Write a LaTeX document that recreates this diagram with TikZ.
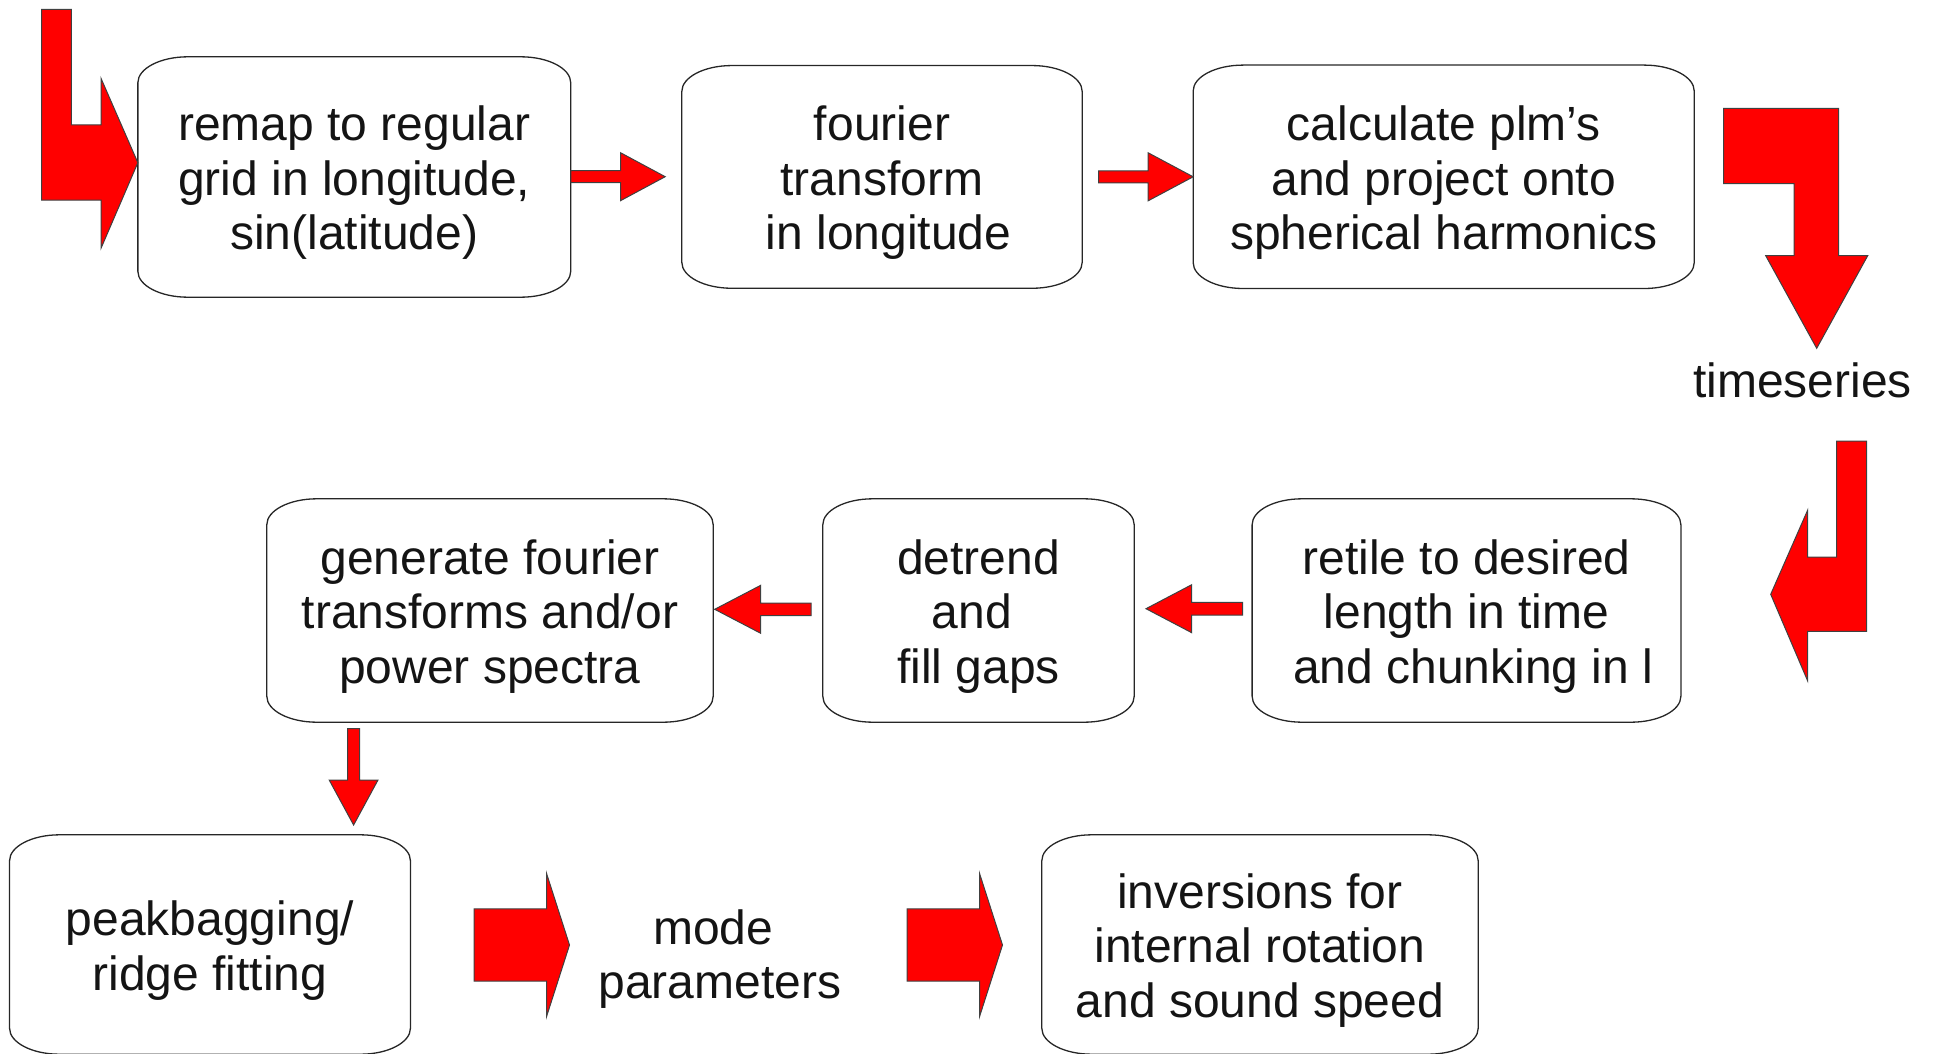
\documentclass[tikz,border=0pt]{standalone}
\usepackage{fontspec}
\setmainfont{Liberation Sans}
\usetikzlibrary{calc}
\newcommand\boxrx{50pt}
\newcommand\boxry{26pt}
\newcommand\trailsp{\kern0.278em}
\tikzset{
  box/.style={draw=none, inner sep=0pt},
  lbl/.style={align=center, inner sep=0pt, text=black!92,
    font=\fontsize{48pt}{54.5pt}\selectfont},
  boxline/.style={draw=black!85, line width=1.3pt},
  barrow/.style={fill=red, draw=black!75, line width=1pt, line join=miter},
}
% elliptical-corner box outline around a named node
\newcommand\ebox[1]{%
  \draw[boxline] ([xshift=\boxrx]#1.north west) -- ([xshift=-\boxrx]#1.north east)
    arc[start angle=90,end angle=0,x radius=\boxrx,y radius=\boxry]
    -- ([yshift=\boxry]#1.south east)
    arc[start angle=0,end angle=-90,x radius=\boxrx,y radius=\boxry]
    -- ([xshift=\boxrx]#1.south west)
    arc[start angle=-90,end angle=-180,x radius=\boxrx,y radius=\boxry]
    -- ([yshift=-\boxry]#1.north west)
    arc[start angle=180,end angle=90,x radius=\boxrx,y radius=\boxry] -- cycle;}
% horizontal block arrow: tail, tip, shaft half height, head half height, signed head length
\newcommand\harrow[5]{%
  \draw[barrow] let \p1=(#1), \p2=(#2) in
    (\x1,\y2+#3) -- ({\x2-(#5)},\y2+#3) -- ({\x2-(#5)},\y2+#4) -- (\x2,\y2)
    -- ({\x2-(#5)},\y2-#4) -- ({\x2-(#5)},\y2-#3) -- (\x1,\y2-#3) -- cycle;}
% downward block arrow: tail, tip, shaft half width, head half width, head length
\newcommand\varrow[5]{%
  \draw[barrow] let \p1=(#1), \p2=(#2) in
    (\x2-#3,\y1) -- (\x2+#3,\y1) -- (\x2+#3,\y2+#5) -- (\x2+#4,\y2+#5) -- (\x2,\y2)
    -- (\x2-#4,\y2+#5) -- (\x2-#3,\y2+#5) -- cycle;}
\begin{document}
\begin{tikzpicture}[x=1pt,y=-1pt]
\useasboundingbox (0,0) rectangle (1933,1054);

% box frames
\node[box, minimum width=432.5pt, minimum height=240pt] (b1) at (354.3,177) {};
\node[box, minimum width=400pt, minimum height=222.3pt] (b2) at (882,176.9) {};
\node[box, minimum width=500.7pt, minimum height=223pt] (b3) at (1443.7,176.8) {};
\node[box, minimum width=428.4pt, minimum height=223pt] (b4) at (1466.5,610.5) {};
\node[box, minimum width=311pt, minimum height=223pt] (b5) at (978.5,610.5) {};
\node[box, minimum width=446pt, minimum height=223pt] (b6) at (490,610.5) {};
\node[box, minimum width=400.5pt, minimum height=219pt] (b7) at (210,944.5) {};
\node[box, minimum width=436pt, minimum height=219pt] (b8) at (1260,944.5) {};
\foreach \n in {b1,b2,b3,b4,b5,b6,b7,b8} {\ebox{\n}}

% box texts
\node[lbl] (t1) at ([yshift=-6pt]b1.center) {remap to regular\\grid in longitude,\\sin(latitude)};
\node[lbl] (t2) at ([yshift=-6pt]b2.center) {fourier\\transform\\\hspace*{0.278em}in longitude};
\node[lbl] (t3) at ([yshift=-6pt]b3.center) {calculate plm’s\\and project onto\\spherical harmonics};
\node[lbl] (t4) at ([yshift=-6pt]b4.center) {retile to desired\\length in time\\\hspace*{0.278em}and chunking in l};
\node[lbl] (t5) at ([yshift=-6pt]b5.center) {detrend\\and\trailsp\\fill gaps};
\node[lbl] (t6) at ([yshift=-6pt]b6.center) {generate fourier\\transforms and/or\\power spectra};
\node[lbl] (t7) at ([yshift=-6pt]b7.center) {peakbagging/\\ridge fitting};
\node[lbl] (t8) at ([yshift=-6pt]b8.center) {inversions for\\internal rotation\\and sound speed};

% free labels
\node[lbl, anchor=base] (ts) at (1802.5,397.3) {timeseries};
\node[lbl] (mp) at (720,959) {mode\trailsp\\parameters};

% named coordinates for arrow ends
\coordinate (a1t) at (665.2,176.7);
\coordinate (a2s) at (1098.7,176.7);
\coordinate (a3s) at (1242.7,608.7);
\coordinate (a3t) at (1146,608.7);
\coordinate (a4s) at (811,609.3);
\coordinate (a4t) at (714.7,609.3);
\coordinate (a5s) at (354,728.7);
\coordinate (a5t) at (353.6,825);
\coordinate (c1s) at (474,945);
\coordinate (c1t) at (569.5,945);
\coordinate (c2s) at (907,945);
\coordinate (c2t) at (1002.5,945);

% block arrows
\harrow{b1.east}{a1t}{6pt}{24pt}{44.7pt}
\harrow{a2s}{b3.west}{6pt}{24pt}{45pt}
\harrow{a3s}{a3t}{6.3pt}{24pt}{-45.7pt}
\harrow{a4s}{a4t}{6.2pt}{24pt}{-46pt}
\varrow{a5s}{a5t}{6pt}{24.4pt}{45pt}
\harrow{c1s}{c1t}{36.2pt}{71.7pt}{23pt}
\harrow{c2s}{c2t}{36.2pt}{71.7pt}{23pt}

% entry arrow into first box
\draw[barrow] (41.5,9.3) -- (71.4,9.3) -- (71.4,125) -- (101,125) -- (101,78.3)
  -- (b1.west |- 0,162.7) -- (101,248.3) -- (101,200) -- (41.5,200) -- cycle;
% bent arrow down to "timeseries"
\draw[barrow] (1723.7,108.3) -- (1838.7,108.3) -- (1838.7,255.7) -- (1867.7,255.7)
  -- (1816.7,348.3) -- (1765.7,255.7) -- (1794,255.7) -- (1794,183.7)
  -- (1723.7,183.7) -- cycle;
% bent arrow from "timeseries" down and left
\draw[barrow] (1836.7,441) -- (1866.7,441) -- (1866.7,631.3) -- (1807.7,631.3)
  -- (1807.7,681) -- (1770.7,594.3) -- (1807.7,510) -- (1807.7,557)
  -- (1836.7,557) -- cycle;
\end{tikzpicture}
\end{document}
